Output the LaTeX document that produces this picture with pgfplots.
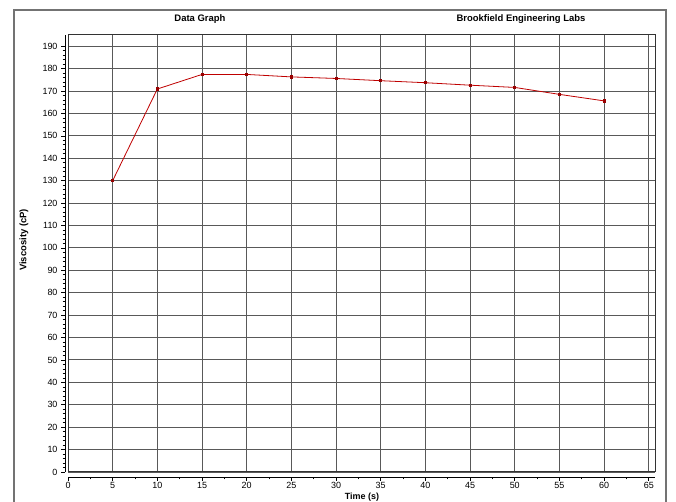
\documentclass[border=0pt]{standalone}
\usepackage{pgfplots}
\pgfplotsset{compat=1.18}
\usepackage{fontspec}
\setmainfont{Liberation Sans}
\begin{document}
\begin{tikzpicture}[x=1bp,y=1bp]
\useasboundingbox (0,0) rectangle (676,502);
\fill[white] (0,0) rectangle (676,502);
\draw[black!55, line width=1.2bp] (14,-5) -- (14,492) -- (666,492) -- (666,-5);
\node[font=\fontsize{9.5}{11}\selectfont\bfseries] at (200,483) {Data Graph};
\node[font=\fontsize{9.5}{11}\selectfont\bfseries] at (521,483) {Brookfield Engineering Labs};
\node[font=\fontsize{9.5}{11}\selectfont\bfseries, rotate=90] at (24,262) {Viscosity (cP)};
\node[font=\fontsize{9}{10}\selectfont\bfseries, inner sep=1bp] at (362,4.5) {Time (s)};
\begin{axis}[
  at={(68bp,30bp)}, anchor=south west,
  scale only axis, width=587bp, height=437bp,
  xmin=0, xmax=65.7, ymin=0, ymax=195,
  axis x line*=bottom, axis y line*=left,
  axis x line shift=5bp, axis y line shift=3bp,
  axis line style={-, black, line width=0.8bp},
  xtick={0,5,...,65}, ytick={0,10,...,190},
  minor x tick num=1, minor y tick num=4,
  tick align=outside,
  major tick length=4bp, minor tick length=2.5bp,
  tick style={black, line width=0.6bp},
  grid=major,
  major grid style={black!65, line width=0.9bp},
  ticklabel style={font=\fontsize{9}{10}\selectfont},
  xticklabel style={yshift=2bp},
  /pgf/number format/assume math mode=true,
  clip=false,
]
\draw[black!80, line width=1bp] (rel axis cs:0,0) rectangle (rel axis cs:1,1);
\addplot[red!75!black, line width=0.8bp, mark=square*, mark size=1.1bp,
  mark options={fill=red!60!black, draw=red!60!black}] coordinates {
  (5,130) (10,170.9) (15,177.4) (20,177.4) (25,176.3) (30,175.6)
  (35,174.6) (40,173.7) (45,172.6) (50,171.6) (55,168.5) (60,165.6)
};
\end{axis}
\end{tikzpicture}
\end{document}
